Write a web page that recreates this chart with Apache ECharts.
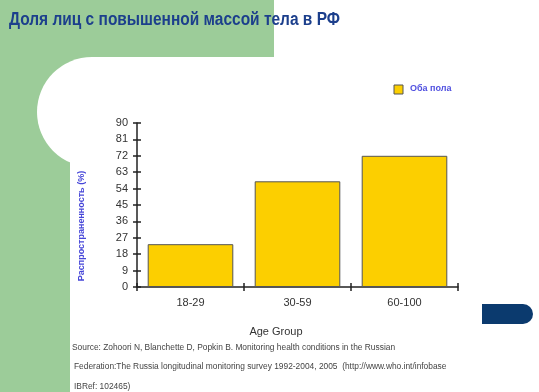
<!DOCTYPE html>
<html><head><meta charset="utf-8">
<script src="https://cdn.jsdelivr.net/npm/echarts@6/dist/echarts.min.js"></script>
<style>html,body{margin:0;padding:0;background:#fff}#c{width:539px;height:392px}</style>
</head><body><div id="c"></div>
<script>
var categories = ['18-29', '30-59', '60-100'];
var values = [23.5, 58, 72];
var seriesName = 'Оба пола';
var yTicks = [0, 9, 18, 27, 36, 45, 54, 63, 72, 81, 90];
var titleText = 'Доля лиц с повышенной массой тела в РФ';
var yName = 'Распространенность (%)';
var xName = 'Age Group';
var sourceLines = [
  'Source: Zohoori N, Blanchette D, Popkin B. Monitoring health conditions in the Russian',
  'Federation:The Russia longitudinal monitoring survey 1992-2004, 2005  (http://www.who.int/infobase',
  'IBRef: 102465)'
];

var chart = echarts.init(document.getElementById('c'), null, {renderer: 'canvas'});
var green = '#9ccc99';
var axisCol = '#222';
var option = {
  backgroundColor: green,
  animation: false,
  graphic: [
    {type: 'rect', z: -5, shape: {x: 92, y: 57, width: 460, height: 340}, style: {fill: '#fff'}},
    {type: 'rect', z: -5, shape: {x: 70, y: 112, width: 480, height: 290}, style: {fill: '#fff'}},
    {type: 'rect', z: -5, shape: {x: 274, y: 0, width: 280, height: 60}, style: {fill: '#fff'}},
    {type: 'circle', z: -5, shape: {cx: 92, cy: 112, r: 55}, style: {fill: '#fff'}},
    {type: 'rect', z: -5, shape: {x: 482, y: 304, width: 51, height: 20, r: [0, 10, 10, 0]}, style: {fill: '#0b3a6e'}},
    {type: 'text', x: 9, y: 11, scaleX: 0.86, style: {text: titleText, font: 'bold 18px "Liberation Sans", Arial', fill: '#1c3f8c'}},
    {type: 'rect', shape: {x: 394, y: 85, width: 9, height: 9}, style: {fill: '#fccf00', stroke: '#555', lineWidth: 1}},
    {type: 'text', x: 410, y: 89, style: {text: seriesName, font: 'bold 9px "Liberation Sans", Arial', fill: '#5050e0', verticalAlign: 'middle'}},
    {type: 'text', x: 82, y: 226, rotation: Math.PI / 2, style: {text: yName, font: 'bold 9px "Liberation Sans", Arial', fill: '#4646d8', align: 'center', verticalAlign: 'middle'}},
    {type: 'text', x: 276, y: 332, style: {text: xName, font: '11px "Liberation Sans", Arial', fill: '#333', align: 'center', verticalAlign: 'middle'}},
    {type: 'text', x: 72, y: 348, style: {text: sourceLines[0], font: '8.4px "Liberation Sans", Arial', fill: '#444', verticalAlign: 'middle'}},
    {type: 'text', x: 74, y: 367, style: {text: sourceLines[1], font: '8.4px "Liberation Sans", Arial', fill: '#444', verticalAlign: 'middle'}},
    {type: 'text', x: 74, y: 387, style: {text: sourceLines[2], font: '8.4px "Liberation Sans", Arial', fill: '#444', verticalAlign: 'middle'}}
  ],
  grid: {left: 137, right: 81, top: 123, bottom: 105, containLabel: false},
  xAxis: [
    {type: 'category', data: categories,
     axisLine: {lineStyle: {color: axisCol, width: 1.5}},
     axisTick: {show: true, length: 4, lineStyle: {color: axisCol, width: 1.5}},
     axisLabel: {color: '#333', fontSize: 11, fontFamily: 'Liberation Sans', margin: 10}},
    {type: 'category', data: categories, position: 'bottom', offset: 0,
     axisLine: {show: false},
     axisTick: {show: true, inside: true, length: 4, lineStyle: {color: axisCol, width: 1.5}},
     axisLabel: {show: false}}
  ],
  yAxis: [
    {type: 'value', min: 0, max: 90, interval: 9,
     axisLine: {show: true, lineStyle: {color: axisCol, width: 1.5}},
     axisTick: {show: true, length: 4, lineStyle: {color: axisCol, width: 1.5}},
     splitLine: {show: false},
     axisLabel: {color: '#333', fontSize: 11, fontFamily: 'Liberation Sans', margin: 9,
       formatter: function (v) { return yTicks.indexOf(v) >= 0 ? String(v) : ''; }}},
    {type: 'value', min: 0, max: 90, interval: 9, position: 'left',
     axisLine: {show: false},
     axisTick: {show: true, inside: true, length: 4, lineStyle: {color: axisCol, width: 1.5}},
     splitLine: {show: false}, axisLabel: {show: false}}
  ],
  series: [{
    name: seriesName, type: 'bar', data: values, barCategoryGap: '20%',
    itemStyle: {color: '#fccf00', borderColor: '#555', borderWidth: 1}
  }]
};
chart.setOption(option);
</script></body></html>
